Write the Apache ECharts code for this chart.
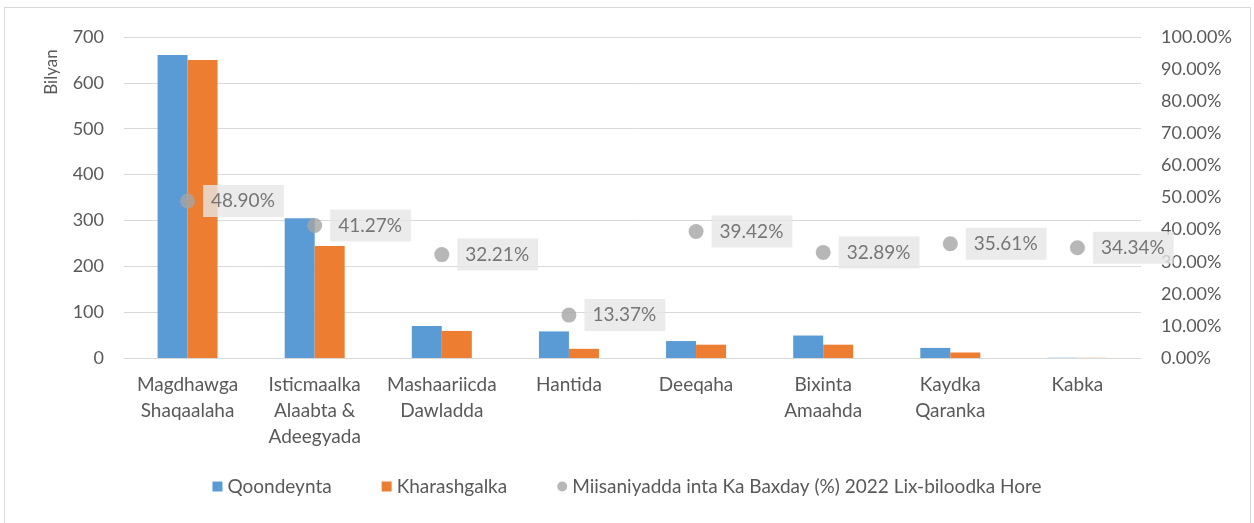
<!DOCTYPE html>
<html>
<head>
<meta charset="utf-8">
<script src="https://cdn.jsdelivr.net/npm/echarts@6/dist/echarts.min.js"></script>
<style>
html,body{margin:0;padding:0;background:#fff;}
#frame{position:absolute;left:4px;top:7px;width:1247px;height:520px;border:1px solid #d9d9d9;box-sizing:border-box;}
#chart{position:absolute;left:0;top:0;width:1254px;height:523px;}
</style>
</head>
<body>
<div id="frame"></div>
<div id="chart"></div>
<script>
const categories = ["Magdhawga\nShaqaalaha", "Isticmaalka\nAlaabta &\nAdeegyada", "Mashaariicda\nDawladda", "Hantida", "Deeqaha", "Bixinta\nAmaahda", "Kaydka\nQaranka", "Kabka"];
const qoondeynta = [661, 305, 70, 58, 37, 49, 22, 0.5];
const kharashgalka = [650, 244, 59, 20, 29, 29, 12, 0.3];
const miisaniyadda = [0.4890, 0.4127, 0.3221, 0.1337, 0.3942, 0.3289, 0.3561, 0.3434];
const seriesNames = ["Qoondeynta", "Kharashgalka", "Miisaniyadda inta Ka Baxday (%) 2022 Lix-biloodka Hore"];
const leftAxisName = "Bilyan";

const FONT = 'Lato';
const TXT = '#595959';
const chart = echarts.init(document.getElementById('chart'), null, {renderer: 'canvas'});
chart.setOption({
  backgroundColor: 'transparent',
  animation: false,
  textStyle: {fontFamily: FONT},
  grid: {left: 124, right: 113, top: 37, bottom: 165, containLabel: false},
  legend: {
    bottom: 22, left: 'center',
    itemWidth: 10, itemHeight: 10, itemGap: 50,
    textStyle: {color: TXT, fontSize: 19, fontFamily: FONT},
    data: [
      {name: seriesNames[0], icon: 'rect'},
      {name: seriesNames[1], icon: 'rect'},
      {name: seriesNames[2], icon: 'circle'}
    ]
  },
  graphic: [{
    type: 'text', x: 52, y: 72, rotation: Math.PI / 2,
    style: {text: leftAxisName, fill: TXT, font: '17px ' + FONT, textAlign: 'center', textVerticalAlign: 'middle'}
  }],
  xAxis: {
    type: 'category', data: categories,
    axisLine: {lineStyle: {color: '#d9d9d9', width: 1}},
    axisTick: {show: false},
    axisLabel: {color: TXT, fontSize: 19, fontFamily: FONT, margin: 14, lineHeight: 26, interval: 0}
  },
  yAxis: [
    {
      type: 'value', min: 0, max: 700, interval: 100,
      axisLine: {show: false}, axisTick: {show: false},
      axisLabel: {color: TXT, fontSize: 18, fontFamily: FONT, margin: 20},
      splitLine: {lineStyle: {color: '#d9d9d9', width: 1}}
    },
    {
      type: 'value', min: 0, max: 1, interval: 0.1,
      axisLine: {show: false}, axisTick: {show: false},
      axisLabel: {color: TXT, fontSize: 18, fontFamily: FONT, margin: 20,
        formatter: v => (v * 100).toFixed(2) + '%'},
      splitLine: {show: false}
    }
  ],
  series: [
    {name: seriesNames[0], type: 'bar', data: qoondeynta, barWidth: 30, barGap: '0%',
      itemStyle: {color: '#5b9bd5'}},
    {name: seriesNames[1], type: 'bar', data: kharashgalka, barWidth: 30, barGap: '0%',
      itemStyle: {color: '#ed7d31'}},
    {name: seriesNames[2], type: 'scatter', yAxisIndex: 1, data: miisaniyadda,
      symbolSize: 15, itemStyle: {color: '#a5a5a5'}, z: 5,
      label: {show: true, position: 'right', distance: 8,
        formatter: p => (p.value * 100).toFixed(2) + '%',
        color: TXT, fontSize: 19, fontFamily: FONT,
        backgroundColor: '#e7e6e6', padding: [7, 9, 6, 8]}}
  ]
});
</script>
</body>
</html>
